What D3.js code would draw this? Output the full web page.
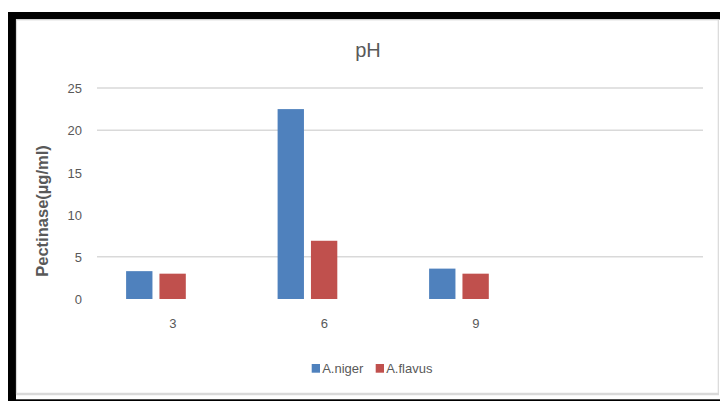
<!DOCTYPE html>
<html>
<head>
<meta charset="utf-8">
<script src="https://cdn.jsdelivr.net/npm/d3@7"></script>
<style>
  html, body { margin: 0; padding: 0; background: #fff; }
  svg { display: block; }
  text { font-family: "Liberation Sans", Arial, sans-serif; fill: #595959; }
</style>
</head>
<body>
<script>
// pH effect on pectinase production
const categories = ["3", "6", "9"];
const seriesNames = ["A.niger", "A.flavus"];
const nigerValues = [3.3, 22.5, 3.6];
const flavusValues = [3.0, 6.9, 3.0];
const yTicks = [0, 5, 10, 15, 20, 25];
const gridValues = [5, 20, 25];
const colors = ["#4F81BD", "#C0504D"];

const W = 720, H = 401;
const svg = d3.select("body").append("svg").attr("width", W).attr("height", H);

// outer frame
svg.append("rect").attr("x", 8).attr("y", 12).attr("width", W - 8).attr("height", 7.3).attr("fill", "#000");
svg.append("rect").attr("x", 8).attr("y", 12).attr("width", 8).attr("height", H - 12).attr("fill", "#000");
svg.append("rect").attr("x", 8).attr("y", 399.3).attr("width", W - 8).attr("height", 2).attr("fill", "#000");
svg.append("rect").attr("x", 16.5).attr("y", 19.8).attr("width", 701.8).attr("height", 374.2)
  .attr("fill", "none").attr("stroke", "#D9D9D9").attr("stroke-width", 1.2);
svg.append("line").attr("x1", 16).attr("x2", 719).attr("y1", 394).attr("y2", 394)
  .attr("stroke", "#D9D9D9").attr("stroke-width", 2.6);

// scales: three categories plus one empty slot
const slots = categories.concat([""]);
const x = d3.scaleBand().domain(slots).range([97, 703]);
const y = d3.scaleLinear().domain([0, 25]).range([299, 88]);
const xSub = d3.scaleBand().domain(seriesNames).range([-29.85, 29.85]).paddingInner(0.21);

// gridlines
svg.append("g").selectAll("line").data(gridValues).join("line")
  .attr("x1", 97).attr("x2", 703)
  .attr("y1", d => y(d)).attr("y2", d => y(d))
  .attr("stroke", "#D9D9D9").attr("stroke-width", 1.6);

// y axis labels
const yAxis = d3.axisLeft(y).tickValues(yTicks).tickSize(0).tickPadding(0);
const gy = svg.append("g").attr("transform", "translate(82,0)").call(yAxis);
gy.select(".domain").remove();
gy.selectAll("text").style("font-size", "13px").attr("fill", "#595959")
  .style("font-family", "'Liberation Sans', Arial, sans-serif").attr("dy", "0.36em");

// x axis labels
const xAxis = d3.axisBottom(x).tickSize(0).tickPadding(0);
const gx = svg.append("g").attr("transform", "translate(0,319)").call(xAxis);
gx.select(".domain").remove();
gx.selectAll("text").style("font-size", "13px").attr("fill", "#595959")
  .style("font-family", "'Liberation Sans', Arial, sans-serif").attr("dy", "0.71em");

// bars
const rows = categories.map((c, i) => ({ cat: c, vals: [nigerValues[i], flavusValues[i]] }));
const barsG = svg.append("g").attr("transform", "translate(-16.8,0)");
const groups = barsG.selectAll("g").data(rows).join("g")
  .attr("transform", d => `translate(${x(d.cat) + x.bandwidth() / 2},0)`);
groups.selectAll("rect").data(d => d.vals.map((v, j) => ({ name: seriesNames[j], v, j })))
  .join("rect")
  .attr("x", d => xSub(d.name))
  .attr("width", xSub.bandwidth())
  .attr("y", d => y(d.v))
  .attr("height", d => y(0) - y(d.v))
  .attr("fill", d => colors[d.j]);

// title
svg.append("text").attr("x", 368).attr("y", 57).attr("text-anchor", "middle")
  .style("font-size", "20px").text("pH");

// y axis title
svg.append("text").attr("transform", "translate(48,211) rotate(-90)")
  .attr("text-anchor", "middle").style("font-size", "16.5px").style("font-weight", "bold")
  .text("Pectinase(µg/ml)");

// legend
const legendX = [311.7, 375.7];
const lg = svg.append("g").selectAll("g").data(seriesNames).join("g")
  .attr("transform", (d, i) => `translate(${legendX[i]},364)`);
lg.append("rect").attr("width", 8.3).attr("height", 8.7).attr("fill", (d, i) => colors[i]);
lg.append("text").attr("x", 10.5).attr("y", 9).style("font-size", "13px").text(d => d);
</script>
</body>
</html>
